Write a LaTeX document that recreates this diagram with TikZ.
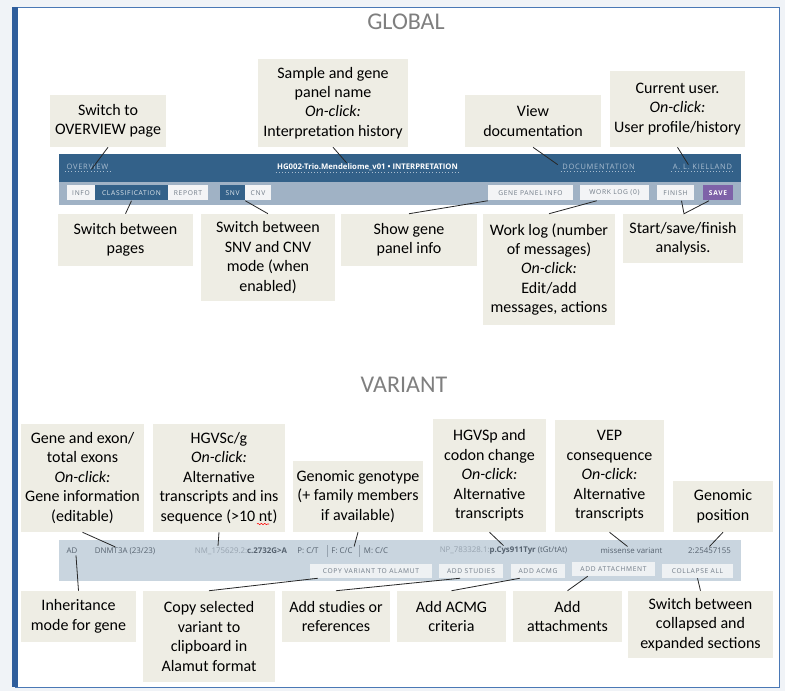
\documentclass[tikz,border=0pt]{standalone}
\usepackage{fontspec}
\setmainfont{Carlito}
\newfontfamily\uifont{Open Sans}
\newfontfamily\btnfont[LetterSpace=10]{Open Sans}
\usetikzlibrary{calc,decorations.pathmorphing}

\definecolor{pagebg}{HTML}{F0F3F7}
\definecolor{framecol}{HTML}{4A78B5}
\definecolor{framebar}{HTML}{2F5E9C}
\definecolor{notefill}{HTML}{EEEDE4}
\definecolor{headcol}{HTML}{7F7F7F}
\definecolor{barblue}{HTML}{336189}
\definecolor{barlight}{HTML}{A0B2C5}
\definecolor{navcol}{HTML}{A9BDD0}
\definecolor{btnfill}{HTML}{F3F4F6}
\definecolor{btntext}{HTML}{6F7A86}
\definecolor{savepurple}{HTML}{7E62A8}
\definecolor{rowbg}{HTML}{C9D5DF}
\definecolor{rowbtn}{HTML}{EEF1F3}
\definecolor{rowcol}{HTML}{56626F}
\definecolor{rowlight}{HTML}{98A4B0}
\definecolor{linkcol}{HTML}{262626}

\begin{document}
\begin{tikzpicture}[x=0.75pt,y=-0.75pt,
  note/.style={fill=notefill,align=center,inner sep=0pt,font=\fontsize{12}{14.6}\selectfont},
  link/.style={draw=linkcol,line width=0.6pt},
  navtext/.style={font=\btnfont\fontsize{5.6}{6}\selectfont,text=navcol,inner sep=1pt},
  btn/.style={fill=btnfill,text=btntext,font=\btnfont\fontsize{5}{5.5}\selectfont,inner sep=0pt,minimum height=11.25pt},
  darkbtn/.style={btn,fill=barblue,text=white!85!barblue},
  rowtext/.style={font=\uifont\fontsize{5.9}{6.5}\selectfont,text=rowcol,inner sep=1pt},
  heading/.style={font=\fontsize{18}{20}\selectfont,text=headcol}]
\useasboundingbox (0,0) rectangle (785,691);
\fill[pagebg] (0,0) rectangle (785,691);
\filldraw[fill=white,draw=framecol,line width=0.6pt] (15,7) rectangle (779,687);
\fill[framebar] (12,7) rectangle (18,687);

\node[heading] (glob) at (406,22) {GLOBAL};
\node[heading] (var) at (404,385) {VARIANT};

% top bar
\fill[barblue] (59,154) rectangle (741,182);
\fill[barlight] (59,182) rectangle (741,205);
\node[navtext] (ov) at (87.5,167) {OVERVIEW};
\node[navtext,text=white,font=\uifont\bfseries\fontsize{5.8}{6}\selectfont] (title) at (367.5,167) {HG002-Trio.Mendeliome\_v01 • INTERPRETATION};
\node[navtext] (doc) at (598.5,167) {DOCUMENTATION};
\node[navtext] (user) at (702.5,167) {A. L. KIELLAND};
\foreach \n in {ov,title,doc,user}
  \draw[navcol,dotted,line width=0.4pt] (\n.south west) -- (\n.south east);
\foreach \n/\cx/\w/\t in {info/81/21/INFO, rep/188/30/REPORT, cnv/258/19.5/CNV, gpi/530.5/63.75/GENE PANEL INFO, wlog/614.5/51.75/WORK LOG (0), fin/675.5/27.75/FINISH}
  \node[btn,minimum width=\w pt] (\n) at (\cx,193) {\t};
\node[darkbtn,minimum width=54.75pt] (cls) at (131.5,193) {CLASSIFICATION};
\node[darkbtn,minimum width=18.75pt] (snv) at (232.5,193) {SNV};
\node[darkbtn,fill=savepurple,text=white,minimum width=22.5pt,font=\btnfont\bfseries\fontsize{5}{5.5}\selectfont] (save) at (718,193) {SAVE};

% global notes
\node[note,minimum width=87pt,minimum height=39pt] (ovbox) at (108,121) {Switch to\\OVERVIEW page};
\node[note,minimum width=112.5pt,minimum height=66pt] (namebox) at (333,103) {Sample and gene\\panel name\\\textit{On-click:}\\Interpretation history};
\node[note,minimum width=102pt,minimum height=39pt] (docbox) at (533,121) {View\\documentation};
\node[note,minimum width=101.25pt,minimum height=57pt] (userbox) at (677.5,109) {Current user.\\\textit{On-click:}\\User profile/history};
\node[note,minimum width=101.25pt,minimum height=39pt] (pagebox) at (125.5,240) {Switch between\\pages};
\node[note,minimum width=100.5pt,minimum height=65.25pt] (modebox) at (268,257.5) {Switch between\\SNV and CNV\\mode (when\\enabled)};
\node[note,minimum width=102pt,minimum height=39pt] (gpbox) at (409,240) {Show gene\\panel info};
\node[note,minimum width=99pt,minimum height=83.25pt] (logbox) at (549,269.5) {Work log (number\\of messages)\\\textit{On-click:}\\Edit/add\\messages, actions};
\node[note,minimum width=90pt,minimum height=36.75pt] (savebox) at (683,238.5) {Start/save/finish\\analysis.};

\draw[link] (ovbox.south) -- ($(ov.south)+(4,-2)$);
\draw[link] (namebox.south) -- ($(title.north west)+(71,1)$);
\draw[link] (docbox.south) -- ($(doc.north west)+(-3,2)$);
\draw[link] (userbox.south) -- ($(user.north west)+(17,2)$);
\draw[link] (pagebox.north) -- (cls.south);
\draw[link] (modebox.north) -- (snv.south east);
\draw[link] (gpbox.north) -- (gpi.south west);
\draw[link] (logbox.north) -- ($(wlog.south west)+(17,0)$);
\draw[link] ($(fin.south)+(6,0)$) -- ($(savebox.north)+(1,0)$) -- ($(save.south)+(-9,0)$);

% variant bar
\fill[rowbg] (59,540) rectangle (741,581);
\node[rowtext] (ad) at (72,551) {AD};
\node[rowtext] (gene) at (125,551) {DNMT3A (23/23)};
\node[rowtext] (hgvsc) at (241,551) {\textcolor{rowlight}{NM\_175629.2:}\textbf{c.2732G>A}};
\node[rowtext] (pgt) at (308,551) {P: C/T};
\node[rowtext] (fgt) at (342,551) {F: C/C};
\node[rowtext] (mgt) at (376,551) {M: C/C};
\foreach \x in {327,359}
  \draw[rowlight,line width=0.4pt] (\x,545) -- (\x,557);
\node[rowtext] (hgvsp) at (503.5,551) {\textcolor{rowlight}{NP\_783328.1:}\textbf{p.Cys911Tyr} (tGt/tAt)};
\node[rowtext] (csq) at (631.5,551) {missense variant};
\node[rowtext] (pos) at (709.5,551) {2:25457155};
\foreach \n/\cx/\w/\t in {copy/371/91.5/COPY VARIANT TO ALAMUT, stud/471/48/ADD STUDIES, acmg/538/40.5/ADD ACMG, coll/697.5/53.25/COLLAPSE ALL}
  \node[btn,fill=rowbtn,minimum width=\w pt,minimum height=10.5pt] (\n) at (\cx,571) {\t};
\node[btn,fill=rowbtn,minimum width=62.25pt,minimum height=10.5pt] (att) at (613.5,569) {ADD ATTACHMENT};

% variant notes
\node[note,minimum width=92.25pt,minimum height=81pt] (genebox) at (82.5,478) {Gene and exon/\\total exons\\\textit{On-click:}\\Gene information\\(editable)};
\node[note,minimum width=99pt,minimum height=81pt] (hgvscbox) at (219,478) {HGVSc/g\\\textit{On-click:}\\Alternative\\transcripts and ins\\sequence (>10 nt)};
\node[note,minimum width=97.5pt,minimum height=53.25pt] (gtbox) at (358,496.5) {Genomic genotype\\(+ family members\\if available)};
\node[note,minimum width=84.75pt,minimum height=84.75pt] (hgvspbox) at (489.5,475.5) {HGVSp and\\codon change\\\textit{On-click:}\\Alternative\\transcripts};
\node[note,minimum width=81.75pt,minimum height=84pt] (vepbox) at (609.5,476) {VEP\\consequence\\\textit{On-click:}\\Alternative\\transcripts};
\node[note,minimum width=75pt,minimum height=38.25pt] (posbox) at (723,506.5) {Genomic\\position};
\node[note,minimum width=86.25pt,minimum height=38.25pt] (inhbox) at (78.5,616.5) {Inheritance\\mode for gene};
\node[note,minimum width=99pt,minimum height=68.25pt] (copybox) at (209,636.5) {Copy selected\\variant to\\clipboard in\\Alamut format};
\node[note,minimum width=81pt,minimum height=38.25pt] (studbox) at (336,616.5) {Add studies or\\references};
\node[note,minimum width=81.75pt,minimum height=38.25pt] (acmgbox) at (451.5,616.5) {Add ACMG\\criteria};
\node[note,minimum width=81.75pt,minimum height=38.25pt] (attbox) at (567.5,616.5) {Add\\attachments};
\node[note,minimum width=108.75pt,minimum height=50.25pt] (collbox) at (700.5,624.5) {Switch between\\collapsed and\\expanded sections};
\draw[red,decorate,decoration={snake,amplitude=0.5pt,segment length=2.5pt}] (257,524) -- (269,524);

\draw[link] (genebox.south) -- ($(gene.north west)+(22,1)$);
\draw[link] (hgvscbox.south) -- ($(hgvsc.north)+(-23,0)$);
\draw[link] (gtbox.south) -- (fgt.north east);
\draw[link] (hgvspbox.south) -- (hgvsp.north);
\draw[link] (vepbox.south) -- ($(csq.north)+(-4,0)$);
\draw[link] (posbox.south) -- (pos.north);
\draw[link] (inhbox.north) -- ($(ad.south)+(4,0)$);
\draw[link] (copybox.north) -- ($(copy.south west)+(8,0)$);
\draw[link] (studbox.north) -- ($(stud.south)+(-11,0)$);
\draw[link] (acmgbox.north) -- ($(acmg.south west)+(9,0)$);
\draw[link] (attbox.north) -- ($(att.south west)+(16,0)$);
\draw[link] (collbox.north) -- (coll.south);
\end{tikzpicture}
\end{document}
